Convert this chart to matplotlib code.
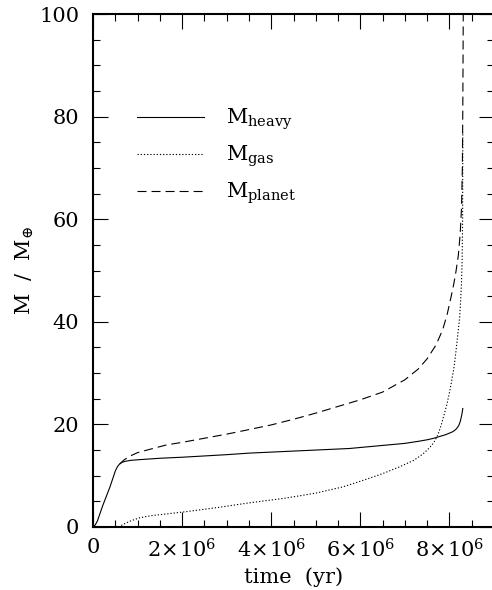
import numpy as np
import matplotlib.pyplot as plt
from matplotlib.ticker import MultipleLocator, FuncFormatter

plt.rcParams['font.family'] = ['DejaVu Serif']
plt.rcParams['mathtext.fontset'] = 'dejavuserif'
plt.rcParams['lines.scale_dashes'] = False

# time in units of 1e6 yr, masses in Earth masses
t_heavy = [0, 0.05, 0.1, 0.16, 0.22, 0.3, 0.38, 0.45, 0.5, 0.55, 0.6, 0.65, 0.72, 0.85,
           1.0, 1.5, 2.0, 3.0, 3.5, 4.5, 5.0, 5.75, 6.5, 7.0, 7.3, 7.5, 7.65, 7.8, 7.9,
           8.0, 8.08, 8.14, 8.18, 8.21, 8.24, 8.26, 8.28, 8.3]
m_heavy = [0, 0.4, 1.2, 2.7, 4.2, 6.0, 7.8, 9.6, 10.9, 11.8, 12.3, 12.6, 12.8, 13.0,
           13.1, 13.4, 13.6, 14.1, 14.4, 14.8, 15.0, 15.3, 15.9, 16.3, 16.7, 17.0, 17.3,
           17.7, 17.95, 18.3, 18.6, 19.0, 19.4, 19.8, 20.5, 21.2, 22.0, 23.1]

t_gas = [0.57, 0.7, 0.85, 1.05, 1.3, 1.6, 2.1, 2.8, 3.5, 4.3, 5.0, 5.6, 6.1, 6.5, 6.9,
         7.2, 7.4, 7.5, 7.6, 7.68, 7.75, 7.82, 7.88, 7.94, 7.99, 8.04, 8.1, 8.15, 8.19,
         8.23, 8.25, 8.27, 8.285, 8.295, 8.3]
m_gas = [0, 0.6, 1.2, 1.8, 2.2, 2.5, 3.0, 3.8, 4.7, 5.6, 6.6, 7.8, 9.2, 10.4, 11.8,
         13.0, 14.2, 15.0, 15.9, 16.9, 18.2, 20.0, 21.9, 23.8, 25.8, 28.0, 31.0, 34.5,
         37.7, 41.0, 44.0, 47.5, 52.0, 60.0, 77.0]

t_planet = [0.6, 0.7, 0.85, 1.0, 1.3, 1.65, 2.0, 2.5, 3.0, 3.45, 4.0, 4.5, 5.0, 5.5,
            6.0, 6.5, 7.0, 7.3, 7.5, 7.7, 7.85, 7.95, 8.04, 8.1, 8.15, 8.2, 8.24, 8.27,
            8.29, 8.3, 8.31]
m_planet = [12.3, 13.1, 13.9, 14.5, 15.2, 16.0, 16.5, 17.3, 18.1, 18.9, 19.9, 21.0,
            22.2, 23.5, 24.8, 26.3, 28.7, 30.8, 32.8, 35.5, 38.5, 41.5, 45.0, 47.5,
            50.0, 53.0, 57.0, 62.0, 70.0, 82.0, 100.0]

labels = [r'M$_{\mathrm{heavy}}$', r'M$_{\mathrm{gas}}$', r'M$_{\mathrm{planet}}$']

fig = plt.figure(figsize=(4.92, 5.90), dpi=100)
ax = fig.add_axes([93 / 492, 63 / 590, 401 / 492, 513 / 590])

lw = 0.8
ax.plot(np.array(t_heavy) * 1e6, m_heavy, color='black', lw=lw, label=labels[0])
ax.plot(np.array(t_gas) * 1e6, m_gas, color='black', lw=lw,
        linestyle=(0, (0.9, 1.4)), label=labels[1])
ax.plot(np.array(t_planet) * 1e6, m_planet, color='black', lw=lw,
        linestyle=(0, (6.5, 3.6)), label=labels[2])

ax.set_xlim(0, 9e6)
ax.set_ylim(0, 100)

ax.xaxis.set_major_locator(MultipleLocator(2e6))
ax.xaxis.set_minor_locator(MultipleLocator(5e5))
ax.yaxis.set_major_locator(MultipleLocator(20))
ax.yaxis.set_minor_locator(MultipleLocator(5))


def fmt_time(x, pos):
    if x == 0:
        return '0'
    return r'$%d\!\times\!10^{6}$' % round(x / 1e6)


ax.xaxis.set_major_formatter(FuncFormatter(fmt_time))

ax.tick_params(which='both', direction='in', top=True, right=True, width=0.8,
               labelsize=15)
ax.tick_params(which='major', length=11, pad=8)
ax.tick_params(axis='y', which='major', pad=10)
ax.tick_params(which='minor', length=5)
for s in ax.spines.values():
    s.set_linewidth(1.5)
ax.spines['right'].set_visible(False)

ax.set_xlabel('time  (yr)', fontsize=15, labelpad=4)
ax.set_ylabel(r'M  /  M$_{\oplus}$', fontsize=15, labelpad=2)

ax.legend(loc='upper left', bbox_to_anchor=(0.11, 0.819), frameon=False,
          fontsize=15, handlelength=3.2, handletextpad=1.05, labelspacing=0.55,
          borderpad=0, borderaxespad=0)

fig.savefig('out.png', dpi=100)
